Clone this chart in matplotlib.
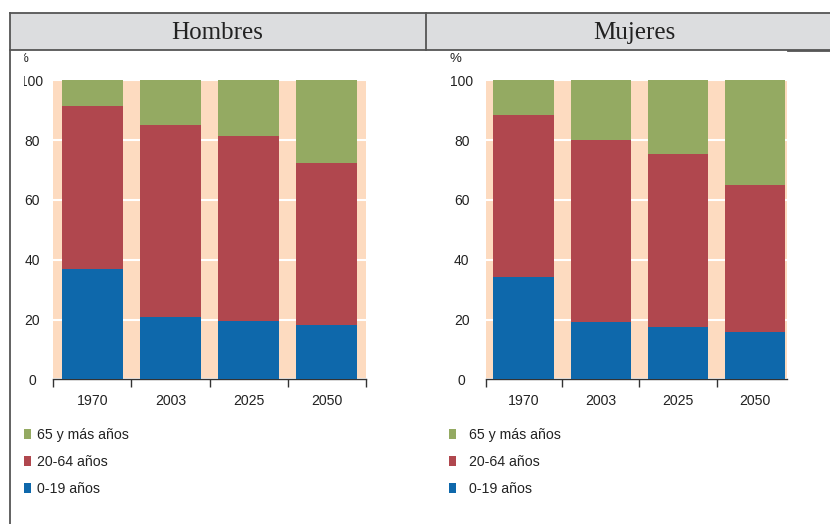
import numpy as np
import matplotlib
matplotlib.use("Agg")
import matplotlib.pyplot as plt
from matplotlib.patches import Rectangle
from matplotlib.lines import Line2D

# data (% of population by age group)
years = ["1970", "2003", "2025", "2050"]
labels = ["0-19 años", "20-64 años", "65 y más años"]
colors = ["#0e68ab", "#b0474e", "#94aa62"]

hombres_0_19 = [37.0, 20.7, 19.5, 18.3]
hombres_20_64 = [54.4, 64.4, 61.8, 54.0]
hombres_65 = [8.6, 14.9, 18.7, 27.7]

mujeres_0_19 = [34.2, 19.2, 17.5, 15.9]
mujeres_20_64 = [54.2, 60.9, 58.0, 49.1]
mujeres_65 = [11.6, 19.9, 24.5, 35.0]

W, H = 830, 524
plt.rcParams["font.family"] = ["Liberation Sans", "DejaVu Sans"]

fig = plt.figure(figsize=(W / 100, H / 100), dpi=100)


def fx(px):
    return px / W


def fy(py):
    return 1 - py / H


def panel(left, width, series, xlim, xticks, ylab_pad):
    ax = fig.add_axes([fx(left), fy(379.3), fx(width), (379.3 - 80.3) / H])
    ax.set_facecolor("#fddbc0")
    x = np.arange(len(years))
    bottom = np.zeros(len(years))
    for vals, c, lab in zip(series, colors, labels):
        ax.bar(x, vals, width=0.78, bottom=bottom, color=c, label=lab, zorder=3)
        bottom += np.array(vals)
    ax.set_xlim(*xlim)
    ax.set_ylim(0, 100)
    ax.set_yticks([0, 20, 40, 60, 80, 100])
    ax.yaxis.grid(True, color="white", lw=1.5)
    ax.set_axisbelow(True)
    for s in ["top", "right", "left"]:
        ax.spines[s].set_visible(False)
    ax.spines["bottom"].set_color("#333333")
    ax.spines["bottom"].set_linewidth(1.0)
    ax.set_xticks(xticks)
    ax.set_xticklabels([])
    ax.set_xticks(x, minor=True)
    ax.set_xticklabels(years, minor=True)
    ax.tick_params(axis="x", which="major", direction="out", length=6,
                   width=1, color="#333333")
    ax.tick_params(axis="x", which="minor", length=0, pad=10.5,
                   labelsize=10.2, labelcolor="#222222")
    ax.tick_params(axis="y", length=0, pad=ylab_pad, labelsize=10,
                   labelcolor="#222222")
    for t in ax.get_yticklabels():
        t.set_horizontalalignment("center")
    ax.text(-37 / width, 1 + 21 / 299, "%", transform=ax.transAxes,
            ha="left", va="center", fontsize=9.5, color="#222222")
    return ax


ax1 = panel(53, 313, [hombres_0_19, hombres_20_64, hombres_65],
            (-0.5, 3.5), [-0.5, 0.5, 1.5, 2.5, 3.5], 15.2)
ax2 = panel(486, 301, [mujeres_0_19, mujeres_20_64, mujeres_65],
            (-0.485, 3.41), [-0.485, 0.5, 1.5, 2.5], 17.5)

# legends (top entry = oldest group)
for ax, lx, pad in [(ax1, 24, 0.45), (ax2, 449, 0.9)]:
    h, l = ax.get_legend_handles_labels()
    fig.legend(h[::-1], l[::-1], loc="upper left",
               bbox_to_anchor=(fx(lx), fy(428)), bbox_transform=fig.transFigure,
               frameon=False, fontsize=10.2, handlelength=0.5, handleheight=0.75,
               handletextpad=pad, labelspacing=0.92, borderpad=0,
               borderaxespad=0, labelcolor="#222222")

# white mask to mimic the cropped left margin
fig.add_artist(Rectangle((fx(11), fy(420)), fx(13), (420 - 52) / H,
                         transform=fig.transFigure, facecolor="white",
                         edgecolor="none", zorder=10))

# header table
fig.add_artist(Rectangle((fx(10), fy(50)), fx(820), 37 / H,
                         transform=fig.transFigure, facecolor="#dcdddf",
                         edgecolor="none", zorder=11))
lc = "#555555"
for xs, ys in [((10, 830), (13, 13)), ((10, 830), (50, 50)),
               ((788, 830), (51, 51)), ((10, 10), (13, 524)),
               ((425.5, 425.5), (13, 50))]:
    fig.add_artist(Line2D([fx(xs[0]), fx(xs[1])], [fy(ys[0]), fy(ys[1])],
                          transform=fig.transFigure, color=lc, lw=1.3,
                          zorder=12))
fig.text(fx(217), fy(33), "Hombres", ha="center", va="center", fontsize=18,
         family="Liberation Serif", color="#222222", zorder=13)
fig.text(fx(634), fy(33), "Mujeres", ha="center", va="center", fontsize=18,
         family="Liberation Serif", color="#222222", zorder=13)

fig.savefig("out.png", dpi=100)
